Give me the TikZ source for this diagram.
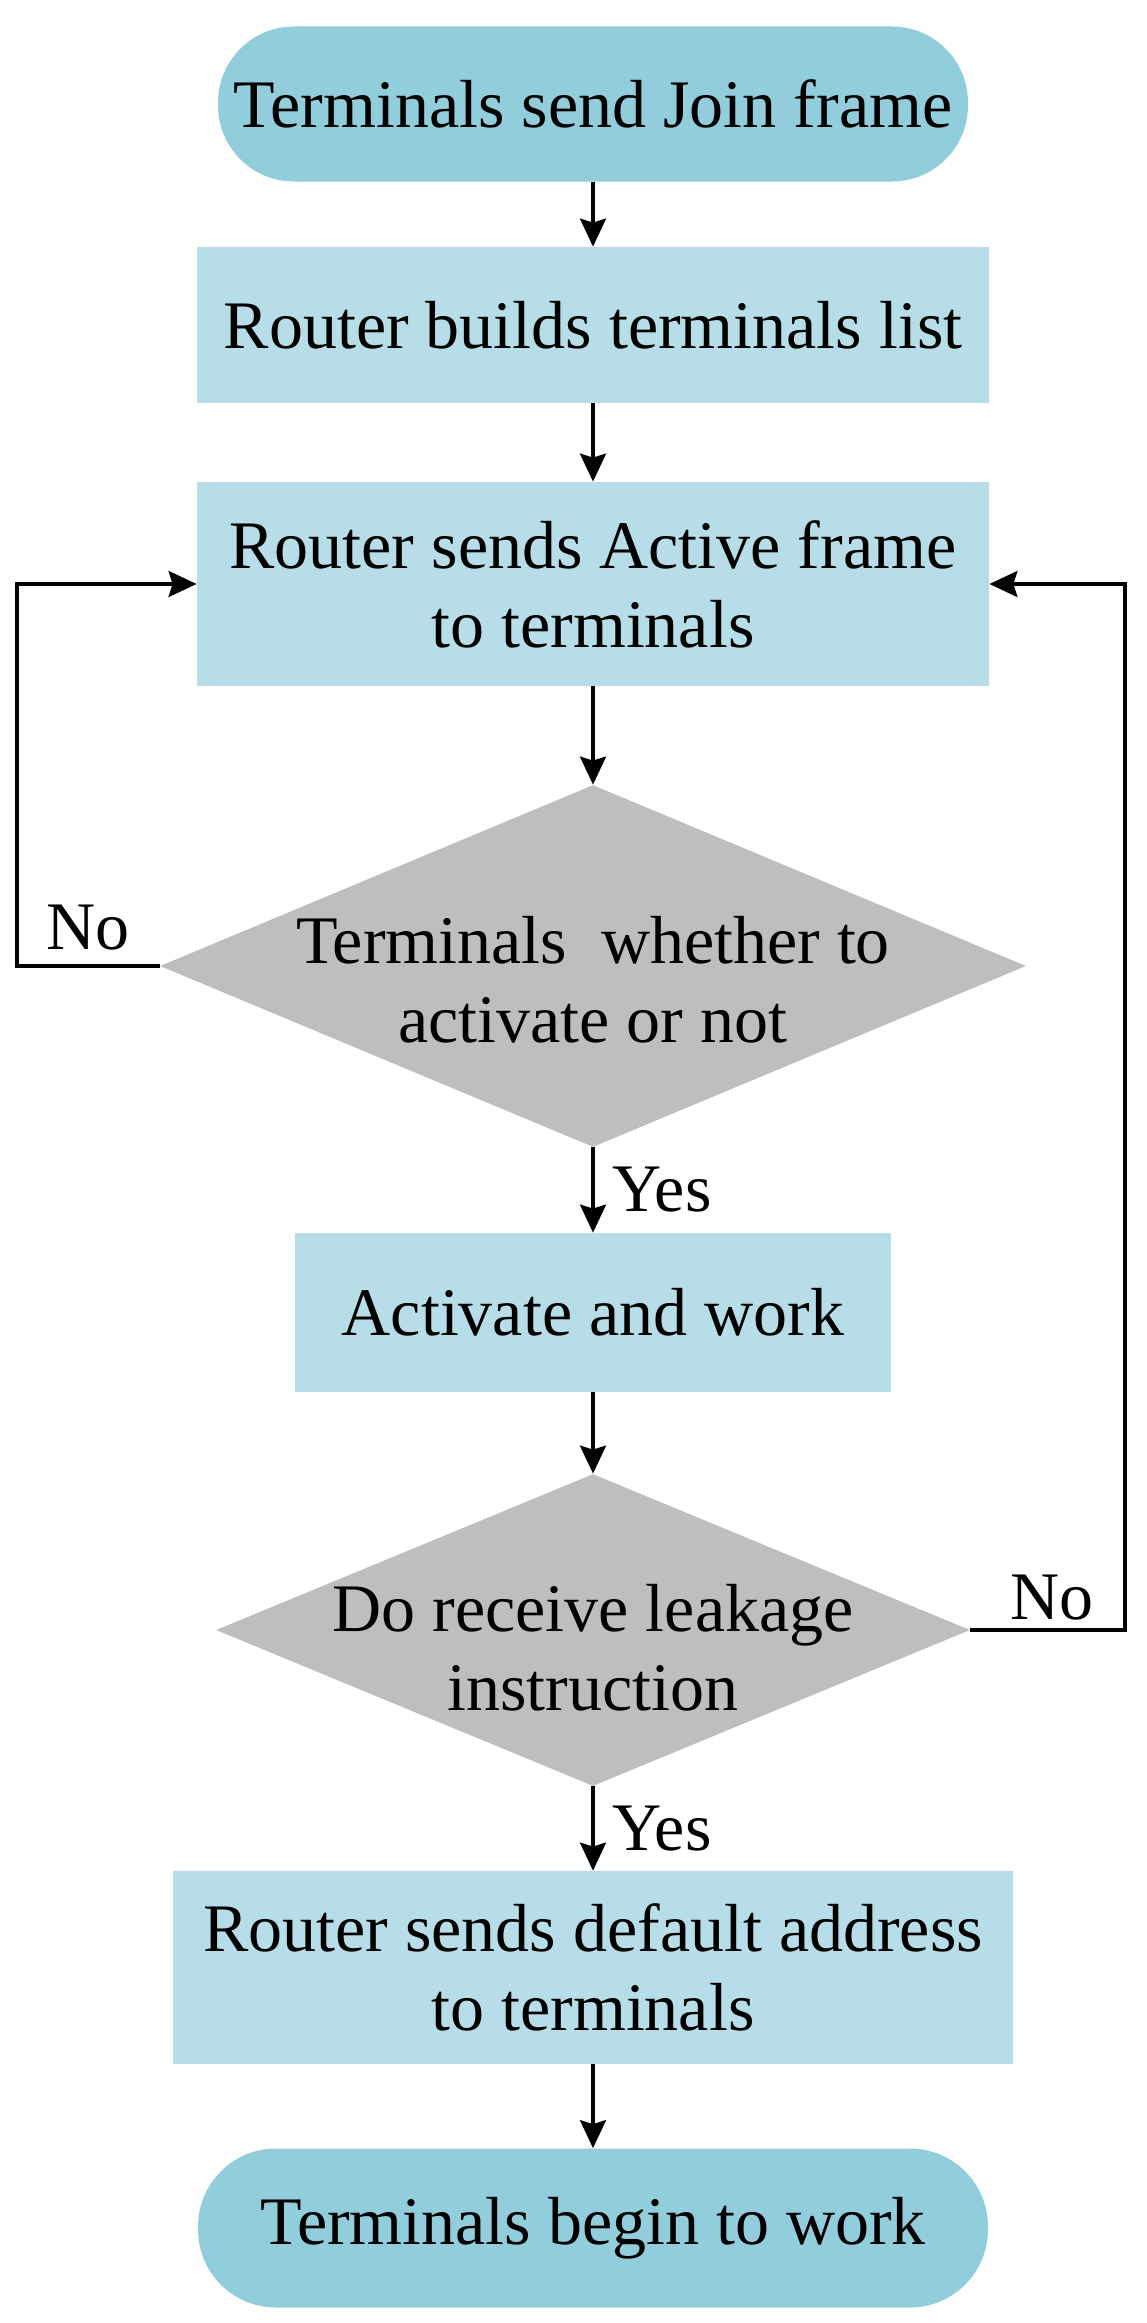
\documentclass[tikz,border=0pt]{standalone}
\usepackage{fontspec}
\setmainfont{Liberation Serif}
\usetikzlibrary{shapes.geometric,arrows.meta}
\definecolor{termfill}{RGB}{146,205,220}
\definecolor{boxfill}{RGB}{183,222,232}
\definecolor{decfill}{RGB}{191,190,191}
\begin{document}
\begin{tikzpicture}[x=0.5pt,y=-0.5pt,
  txt/.style={font=\fontsize{34}{39.5}\selectfont, align=center, text=black},
  terminal/.style={txt, rectangle, fill=termfill, rounded corners=38pt, inner sep=0pt},
  procbox/.style={txt, rectangle, fill=boxfill, inner sep=0pt},
  decision/.style={diamond, fill=decfill, inner sep=0pt},
  lbl/.style={font=\fontsize{34}{39.5}\selectfont, inner sep=0pt, text=black},
  arr/.style={line width=1.6pt, draw=black, -{Stealth[length=14pt,width=13pt,inset=2pt]}}
]
\useasboundingbox (0,0) rectangle (1146,2323);
\coordinate (lx) at (17,0);
\coordinate (rx) at (1125,0);

\node[terminal, minimum width=375pt, minimum height=77.5pt] (t1) at (593,104) {Terminals send Join frame};
\node[procbox, minimum width=396pt, minimum height=78pt] (b2) at (593,325) {Router builds terminals list};
\node[procbox, minimum width=396pt, minimum height=102pt] (b3) at (593,584) {Router sends Active frame\\to terminals};
\node[decision, minimum width=433pt, minimum height=181pt] (d1) at (593,966) {};
\node[txt] (d1t) at (593,980) {Terminals\ \ whether to\\activate or not};
\node[procbox, minimum width=298pt, minimum height=79.5pt] (b4) at (593,1312.5) {Activate and work};
\node[decision, minimum width=377pt, minimum height=156pt] (d2) at (593,1630) {};
\node[txt] (d2t) at (593,1648) {Do receive leakage\\instruction};
\node[procbox, minimum width=420pt, minimum height=96.5pt] (b5) at (593,1967.5) {Router sends default address\\to terminals};
\node[terminal, minimum width=395pt, minimum height=79.5pt, rounded corners=39pt] (t2) at (593,2228) {Terminals begin to work};

\draw[arr] (t1.south) -- (b2.north);
\draw[arr] (b2.south) -- (b3.north);
\draw[arr] (b3.south) -- (d1.north);
\draw[arr] (d1.south) -- node[lbl, anchor=west, xshift=9pt] (yes1) {Yes} (b4.north);
\draw[arr] (b4.south) -- (d2.north);
\draw[arr] (d2.south) -- node[lbl, anchor=west, xshift=9pt] (yes2) {Yes} (b5.north);
\draw[arr] (b5.south) -- (t2.north);

\draw[arr] (d1.west) -- node[lbl, anchor=base, yshift=8.5pt] (no1) {No} (d1.west -| lx) |- (b3.west);
\draw[arr] (d2.east) -- node[lbl, anchor=base, yshift=5.5pt, xshift=2pt] (no2) {No} (d2.east -| rx) |- (b3.east);
\end{tikzpicture}
\end{document}
